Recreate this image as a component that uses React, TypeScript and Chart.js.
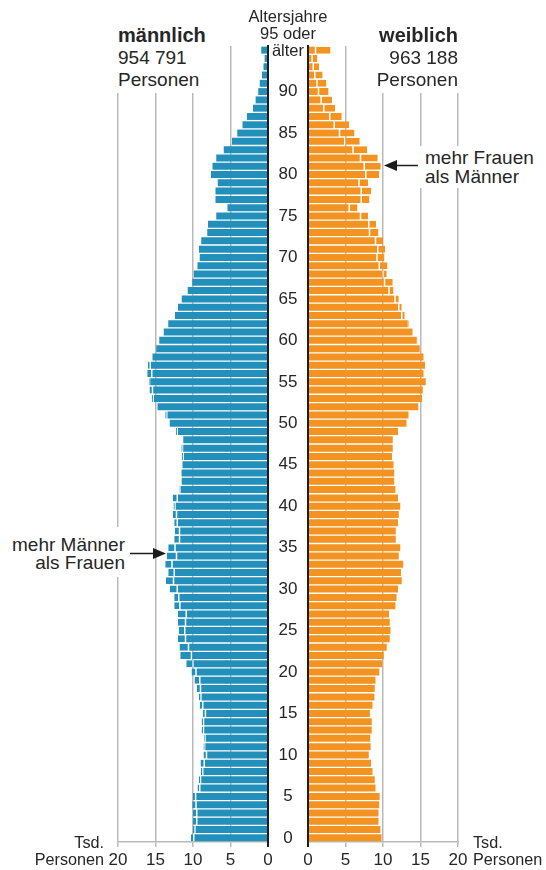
import React, { useEffect, useRef } from 'react';
import { Chart, registerables } from 'chart.js';
Chart.register(...registerables);

// Age categories 0 ... 95 (95 = "95 oder älter")
const ages = [
  '0','1','2','3','4','5','6','7','8','9',
  '10','11','12','13','14','15','16','17','18','19',
  '20','21','22','23','24','25','26','27','28','29',
  '30','31','32','33','34','35','36','37','38','39',
  '40','41','42','43','44','45','46','47','48','49',
  '50','51','52','53','54','55','56','57','58','59',
  '60','61','62','63','64','65','66','67','68','69',
  '70','71','72','73','74','75','76','77','78','79',
  '80','81','82','83','84','85','86','87','88','89',
  '90','91','92','93','94','95',
];

// Tsd. Personen, by age 0 ... 95+
const male = [
  10.3, 10.0, 10.0, 10.0, 10.1, 10.0, 9.4, 9.2, 8.95, 9.0,
  8.6, 8.6, 8.5, 8.85, 8.85, 8.7, 9.1, 9.2, 9.5, 9.8,
  10.2, 10.9, 11.7, 11.8, 12.0, 11.9, 12.0, 12.0, 12.5, 12.5,
  13.1, 13.6, 13.3, 13.7, 13.5, 13.3, 12.5, 12.4, 12.5, 12.7,
  12.6, 12.7, 11.8, 11.55, 11.6, 11.4, 11.5, 11.55, 11.3, 12.3,
  13.1, 13.7, 14.8, 15.5, 15.8, 15.9, 16.1, 16.0, 15.4, 14.9,
  14.5, 13.9, 13.3, 12.4, 12.0, 11.5, 10.7, 10.1, 9.9, 9.4,
  9.1, 9.2, 8.9, 8.1, 8.0, 6.9, 5.4, 7.0, 7.0, 6.7,
  7.6, 7.4, 6.9, 5.9, 4.8, 4.1, 3.4, 2.8, 2.0, 1.65,
  1.3, 1.1, 0.8, 0.6, 0.45, 0.9,
];

const female = [
  9.8, 9.65, 9.4, 9.4, 9.5, 9.55, 9.0, 8.9, 8.6, 8.4,
  8.1, 8.35, 8.3, 8.5, 8.5, 8.25, 8.6, 8.85, 8.9, 9.0,
  9.5, 9.9, 10.1, 10.5, 10.9, 11.0, 10.9, 10.8, 11.65, 11.8,
  12.0, 12.5, 12.4, 12.7, 12.1, 12.3, 11.7, 11.7, 12.0, 12.1,
  12.3, 12.0, 11.65, 11.5, 11.5, 11.4, 11.2, 11.3, 11.3, 12.0,
  13.2, 13.4, 14.7, 15.2, 15.3, 15.7, 15.4, 15.6, 15.4, 14.9,
  14.6, 14.0, 13.5, 12.9, 12.5, 12.1, 11.4, 11.3, 10.5, 10.6,
  10.2, 10.3, 10.0, 9.4, 9.1, 8.0, 6.6, 8.2, 8.4, 8.0,
  9.5, 9.7, 9.3, 7.9, 6.9, 6.2, 5.5, 4.5, 3.6, 3.2,
  2.75, 2.45, 1.95, 1.5, 1.25, 3.0,
];

const xTicks = [0, 5, 10, 15, 20];

const FONT = '"Liberation Sans", Arial, Helvetica, sans-serif';
const BLUE = '#2290bb';
const ORANGE = '#f39322';
const GRID = '#b9b9b9';
const DARK = '#1c1c1c';
const TEXT = '#262626';
const SEP = 'rgba(255,255,255,0.72)';

function buildConfig(side: 'm' | 'f'): any {
  const own = side === 'm' ? male : female;
  const other = side === 'm' ? female : male;
  const base = own.map((v, i) => Math.min(v, other[i]));
  const excess = own.map((v, i) => Math.max(0, v - other[i]));
  const color = side === 'm' ? BLUE : ORANGE;
  const isM = side === 'm';
  const common = { barPercentage: 0.84, categoryPercentage: 1, stack: 's' };
  return {
    type: 'bar',
    data: {
      labels: ages,
      datasets: [
        { ...common, data: base, backgroundColor: color, borderWidth: 0 },
        {
          ...common,
          data: excess,
          backgroundColor: color,
          borderColor: SEP,
          borderWidth: isM ? { right: 1.5, left: 0, top: 0, bottom: 0 } : { left: 1.5, right: 0, top: 0, bottom: 0 },
          borderSkipped: false,
        },
      ],
    },
    options: {
      indexAxis: 'y',
      responsive: false,
      animation: false,
      events: [],
      layout: { padding: isM ? { left: 118, right: 0, top: 46, bottom: 0 } : { left: 0, right: 88, top: 46, bottom: 0 } },
      plugins: { legend: { display: false }, tooltip: { enabled: false } },
      scales: {
        x: {
          type: 'linear',
          min: 0,
          max: 20,
          reverse: isM,
          stacked: true,
          afterBuildTicks: (s: any) => { s.ticks = xTicks.map((v) => ({ value: v })); },
          ticks: { color: TEXT, font: { size: 17, family: FONT }, padding: 3.5, maxRotation: 0, autoSkip: false },
          grid: {
            color: (c: any) => (c.tick && c.tick.value === 0 ? DARK : GRID),
            lineWidth: (c: any) => (c.tick && c.tick.value === 0 ? 2 : 1.5),
            tickLength: 5,
            drawTicks: true,
          },
          border: { display: true, color: GRID, width: 1.5 },
          afterFit: (s: any) => { s.height = 28; },
        },
        y: {
          type: 'category',
          position: isM ? 'right' : 'left',
          reverse: true,
          stacked: true,
          ticks: isM
            ? { display: false }
            : {
                display: true,
                autoSkip: false,
                crossAlign: 'center',
                padding: 10.5,
                color: TEXT,
                font: { size: 17, family: FONT },
                callback: function (this: any, value: any) {
                  const a = Number(ages[value]);
                  return a % 5 === 0 && a <= 90 ? String(a) : '';
                },
              },
          grid: { display: false, drawTicks: false },
          border: { display: true, color: DARK, width: 2, z: 1 },
          afterFit: (s: any) => { s.width = isM ? 10 : 36; },
        },
      },
    },
  };
}

function Pyramid({ side, left, width }: { side: 'm' | 'f'; left: number; width: number }) {
  const ref = useRef<HTMLCanvasElement>(null);
  useEffect(() => {
    if (!ref.current) return;
    const chart = new Chart(ref.current, buildConfig(side));
    return () => chart.destroy();
  }, [side]);
  return (
    <canvas
      ref={ref}
      width={width}
      height={870}
      style={{ position: 'absolute', left, top: 0, width, height: 870 }}
    />
  );
}

const abs = (o: any): any => ({ position: 'absolute', fontFamily: FONT, color: TEXT, ...o });

export default function App() {
  return (
    <div style={{ position: 'absolute', left: 0, top: 0, width: 546, height: 870, background: '#fff', overflow: 'hidden' }}>
      <Pyramid side="m" left={0} width={278} />
      <Pyramid side="f" left={272} width={274} />

      {/* header left */}
      <div style={abs({ left: 110, top: 24, width: 97, height: 69, paddingLeft: 8, background: '#fff', fontSize: 19, lineHeight: '22px', textAlign: 'left', whiteSpace: 'nowrap' })}>
        <b style={{ fontSize: 20 }}>männlich</b><br />954 791<br />Personen
      </div>
      {/* header right */}
      <div style={abs({ left: 352, top: 24, width: 106, height: 69, paddingRight: 8, background: '#fff', fontSize: 19, lineHeight: '22px', textAlign: 'right', whiteSpace: 'nowrap' })}>
        <b style={{ fontSize: 20 }}>weiblich</b><br />963 188<br />Personen
      </div>
      {/* center header */}
      <div style={abs({ left: 238, top: 7.5, width: 100, fontSize: 16.5, lineHeight: '17px', textAlign: 'center' })}>
        Altersjahre<br />95 oder<br />älter
      </div>

      {/* unit labels */}
      <div style={abs({ left: 0, top: 833.5, width: 104, fontSize: 16.2, lineHeight: '17px', textAlign: 'right' })}>
        Tsd.<br />Personen
      </div>
      <div style={abs({ left: 473, top: 833.5, width: 73, fontSize: 16.2, lineHeight: '17px', textAlign: 'left' })}>
        Tsd.<br />Personen
      </div>

      {/* annotation right */}
      <div style={abs({ left: 398, top: 146, width: 148, height: 42, background: '#fff' })} />
      <div style={abs({ left: 425, top: 147.5, width: 121, fontSize: 19, lineHeight: '19px', textAlign: 'left', whiteSpace: 'nowrap' })}>
        mehr Frauen<br />als Männer
      </div>
      {/* annotation left */}
      <div style={abs({ left: 0, top: 527, width: 128, height: 50, background: '#fff' })} />
      <div style={abs({ left: 0, top: 535.5, width: 125, fontSize: 19, lineHeight: '18px', textAlign: 'right', whiteSpace: 'nowrap' })}>
        mehr Männer<br />als Frauen
      </div>

      <svg width={546} height={870} style={{ position: 'absolute', left: 0, top: 0, pointerEvents: 'none' }}>
        <line x1={395} y1={165.5} x2={418} y2={165.5} stroke={DARK} strokeWidth={1.5} />
        <polygon points="384,165.5 397,160 397,171" fill={DARK} />
        <line x1={130} y1={553.5} x2={154} y2={553.5} stroke={DARK} strokeWidth={1.5} />
        <polygon points="166,553.5 153,548 153,559" fill={DARK} />
      </svg>
    </div>
  );
}
